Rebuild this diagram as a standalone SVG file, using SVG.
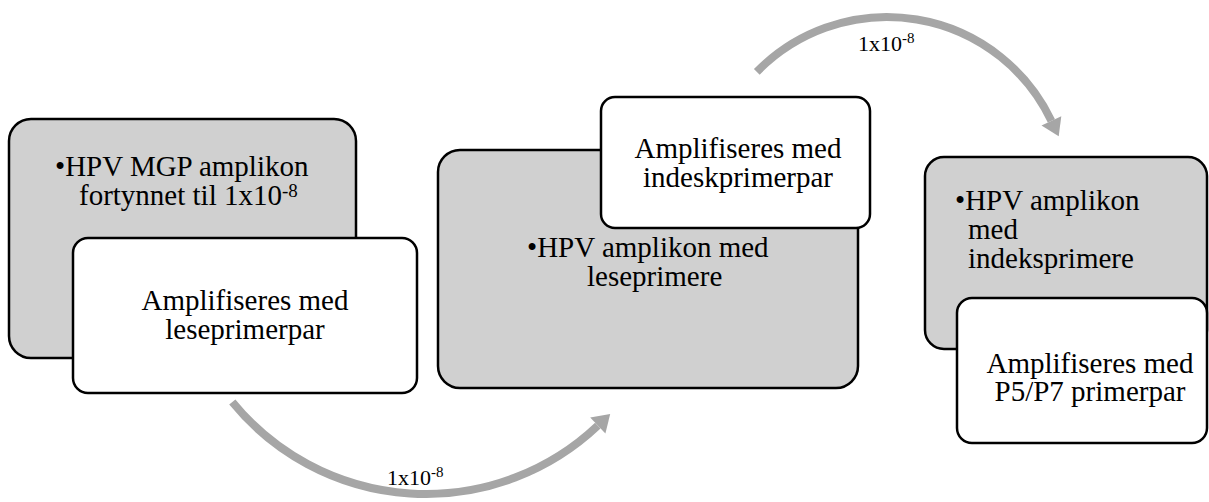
<svg xmlns="http://www.w3.org/2000/svg" width="1209" height="502" viewBox="0 0 1209 502">
  <style>
    .shade { fill: #d0d0d0; stroke: #000; stroke-width: 2.5; }
    .plain { fill: #fff; stroke: #000; stroke-width: 2.5; }
    .txt { font-family: "Liberation Serif", "Times New Roman", serif; font-size: 29px; fill: #000; }
    .mid { text-anchor: middle; }
    .sup { font-size: 19px; }
    .lbl { font-family: "Liberation Serif", "Times New Roman", serif; font-size: 22px; fill: #000; }
    .lsup { font-size: 15px; }
    .shaft { fill: none; stroke: #a6a6a6; stroke-width: 8; }
    .head { fill: #a6a6a6; }
  </style>
  <rect width="1209" height="502" fill="#fff"/>

  <!-- curved transfer arrows with dilution labels -->
  <g id="connectors">
    <path class="shaft" d="M 232.3 402 A 250 250 0 0 0 597.8 425.6"/>
    <polygon class="head" points="610.2,413.9 605.4,433.6 590.2,417.6"/>
    <text class="lbl" x="387" y="485">1x10<tspan class="lsup" dy="-8">-8</tspan></text>

    <path class="shaft" d="M 756.8 71.9 A 182 182 0 0 1 1051.4 120.9"/>
    <polygon class="head" points="1058.7,136.3 1061.3,116.2 1041.5,125.6"/>
    <text class="lbl" x="858" y="51">1x10<tspan class="lsup" dy="-8">-8</tspan></text>
  </g>

  <!-- step 1 -->
  <g id="step1">
    <rect class="shade" x="9" y="119" width="347" height="239" rx="22"/>
    <text class="txt" x="55" y="176">•HPV MGP amplikon</text>
    <text class="txt" x="79" y="205">fortynnet til 1x10<tspan class="sup" dy="-8">-8</tspan></text>
    <rect class="plain" x="73" y="238" width="344" height="155" rx="15"/>
    <text class="txt mid" x="245" y="310">Amplifiseres med</text>
    <text class="txt mid" x="245" y="339">leseprimerpar</text>
  </g>

  <!-- step 2 -->
  <g id="step2">
    <rect class="shade" x="438" y="150" width="420" height="238" rx="22"/>
    <text class="txt" x="527" y="257">•HPV amplikon med</text>
    <text class="txt" x="587" y="286">leseprimere</text>
    <rect class="plain" x="601" y="97" width="269" height="131" rx="14"/>
    <text class="txt mid" x="738" y="158">Amplifiseres med</text>
    <text class="txt mid" x="738" y="187">indeskprimerpar</text>
  </g>

  <!-- step 3 -->
  <g id="step3">
    <rect class="shade" x="925" y="157" width="282" height="192" rx="19"/>
    <text class="txt" x="955" y="210">•HPV amplikon</text>
    <text class="txt" x="968" y="239">med</text>
    <text class="txt" x="968" y="268">indeksprimere</text>
    <rect class="plain" x="957" y="298" width="250" height="145" rx="15"/>
    <text class="txt mid" x="1090" y="373">Amplifiseres med</text>
    <text class="txt mid" x="1090" y="401">P5/P7 primerpar</text>
  </g>
</svg>
